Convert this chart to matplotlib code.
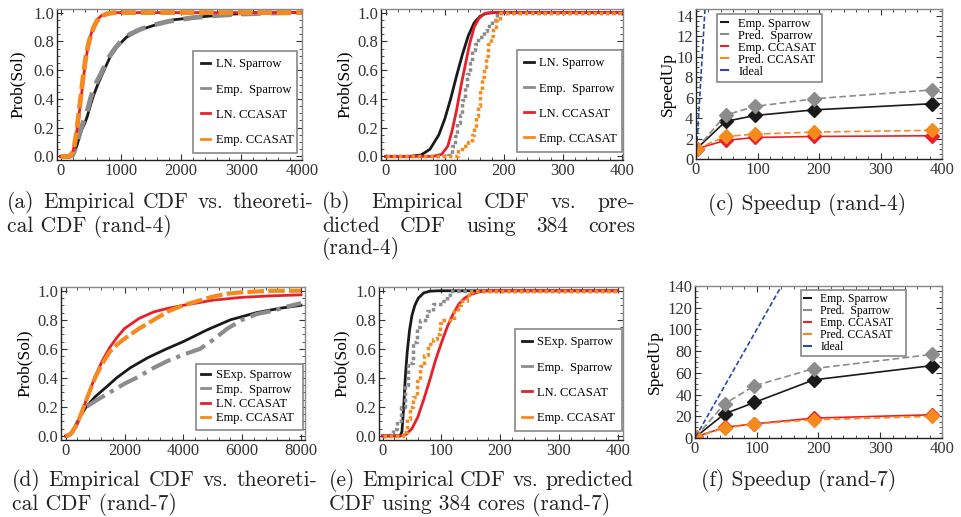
import matplotlib
matplotlib.use('Agg')
import matplotlib.pyplot as plt
from matplotlib.lines import Line2D
from matplotlib.ticker import MultipleLocator, AutoMinorLocator

plt.rcParams['font.family'] = ['Liberation Serif', 'DejaVu Serif']

# ---------------- data ----------------
# (a) rand-4, empirical vs theoretical
a_ln_sp_x = [0, 150, 183, 230, 266, 300, 349, 400, 443, 490, 542, 625, 720, 819, 929, 1095, 1317, 1538, 1870, 2313, 2866, 3419, 4000]
a_ln_sp_y = [0, 0, 0.01, 0.04, 0.07, 0.12, 0.185, 0.23, 0.28, 0.35, 0.42, 0.51, 0.6, 0.69, 0.76, 0.83, 0.88, 0.91, 0.95, 0.97, 0.99, 1.0, 1.0]
a_emp_sp_x = [0, 150, 200, 240, 280, 320, 360, 400, 450, 500, 560, 600, 650, 720, 800, 900, 1000, 1150, 1300, 1500, 1800, 2200, 2600, 3000, 3500, 4000]
a_emp_sp_y = [0, 0, 0.01, 0.05, 0.1, 0.17, 0.22, 0.27, 0.33, 0.41, 0.48, 0.52, 0.56, 0.62, 0.69, 0.75, 0.8, 0.85, 0.88, 0.91, 0.94, 0.965, 0.98, 0.99, 0.997, 1.0]
a_ln_cc_x = [0, 120, 160, 200, 240, 280, 320, 360, 400, 440, 490, 540, 600, 680, 760, 900, 1200, 4000]
a_ln_cc_y = [0, 0, 0.005, 0.03, 0.1, 0.21, 0.34, 0.48, 0.62, 0.73, 0.83, 0.9, 0.95, 0.98, 0.99, 1.0, 1.0, 1.0]
a_emp_cc_x = [0, 120, 160, 200, 230, 260, 290, 330, 380, 420, 460, 500, 550, 600, 650, 700, 760, 850, 1000, 4000]
a_emp_cc_y = [0, 0, 0.005, 0.03, 0.08, 0.16, 0.26, 0.4, 0.58, 0.7, 0.78, 0.84, 0.9, 0.94, 0.965, 0.98, 0.99, 0.998, 1.0, 1.0]

# (b) rand-4, predicted for 384 cores
b_ln_sp_x = [0, 40, 60, 75, 90, 100, 110, 120, 130, 140, 150, 160, 170, 185, 400]
b_ln_sp_y = [0, 0, 0.01, 0.05, 0.15, 0.26, 0.4, 0.56, 0.71, 0.84, 0.93, 0.975, 0.995, 1.0, 1.0]
b_emp_sp_x = [0, 106, 112, 117, 120, 126, 129, 134, 137, 143, 146, 151, 157, 166, 171, 180, 188, 400]
b_emp_sp_y = [0, 0.01, 0.07, 0.14, 0.23, 0.29, 0.39, 0.48, 0.57, 0.65, 0.74, 0.785, 0.83, 0.87, 0.91, 0.95, 1.0, 1.0]
b_ln_cc_x = [0, 80, 95, 105, 112, 120, 128, 135, 142, 150, 158, 168, 180, 400]
b_ln_cc_y = [0, 0, 0.015, 0.07, 0.17, 0.32, 0.5, 0.64, 0.78, 0.9, 0.96, 0.995, 1.0, 1.0]
b_emp_cc_x = [0, 120, 123, 130, 140, 147, 150, 153, 156, 160, 163, 166, 170, 174, 178, 182, 187, 193, 400]
b_emp_cc_y = [0, 0, 0.04, 0.07, 0.1, 0.15, 0.2, 0.28, 0.35, 0.45, 0.55, 0.62, 0.7, 0.78, 0.84, 0.9, 0.95, 1.0, 1.0]

# (d) rand-7, empirical vs theoretical
d_sexp_sp_x = [0, 100, 200, 350, 500, 700, 1000, 1400, 1730, 2200, 2800, 3430, 4000, 4800, 5600, 6500, 7300, 8000]
d_sexp_sp_y = [0, 0.005, 0.02, 0.07, 0.14, 0.2, 0.27, 0.34, 0.4, 0.47, 0.54, 0.6, 0.65, 0.73, 0.8, 0.85, 0.88, 0.9]
d_emp_sp_x = [0, 100, 200, 350, 500, 700, 1000, 1500, 2000, 2400, 3000, 3500, 4000, 4570, 5000, 5500, 6000, 6500, 7000, 7500, 8000]
d_emp_sp_y = [0, 0.005, 0.02, 0.07, 0.14, 0.2, 0.24, 0.3, 0.36, 0.4, 0.47, 0.52, 0.56, 0.6, 0.66, 0.74, 0.8, 0.84, 0.86, 0.89, 0.915]
d_ln_cc_x = [0, 100, 200, 350, 500, 650, 800, 1000, 1250, 1500, 1750, 2000, 2500, 3000, 3500, 4000, 5000, 6000, 7000, 8000]
d_ln_cc_y = [0, 0.005, 0.02, 0.07, 0.14, 0.22, 0.3, 0.41, 0.52, 0.61, 0.68, 0.74, 0.81, 0.855, 0.88, 0.9, 0.935, 0.955, 0.965, 0.972]
d_emp_cc_x = [0, 100, 200, 350, 500, 650, 800, 1000, 1250, 1500, 1750, 2000, 2500, 3000, 3500, 4000, 4500, 5000, 5500, 6000, 7000, 8000]
d_emp_cc_y = [0, 0.005, 0.02, 0.07, 0.14, 0.22, 0.3, 0.4, 0.5, 0.58, 0.63, 0.67, 0.74, 0.8, 0.86, 0.9, 0.93, 0.96, 0.98, 0.99, 1.0, 1.0]

# (e) rand-7, predicted for 384 cores
e_sexp_sp_x = [0, 30, 33, 36, 39, 42, 46, 50, 55, 61, 70, 80, 95, 400]
e_sexp_sp_y = [0, 0, 0.03, 0.2, 0.42, 0.58, 0.73, 0.83, 0.9, 0.95, 0.985, 0.997, 1.0, 1.0]
e_emp_sp_x = [0, 12, 18, 24, 32, 38, 44, 52, 58, 64, 75, 86, 103, 109, 115, 400]
e_emp_sp_y = [0, 0.02, 0.05, 0.1, 0.2, 0.35, 0.5, 0.65, 0.75, 0.8, 0.86, 0.91, 0.93, 0.97, 1.0, 1.0]
e_ln_cc_x = [0, 30, 40, 50, 60, 70, 80, 90, 100, 110, 120, 130, 140, 150, 165, 180, 400]
e_ln_cc_y = [0, 0, 0.01, 0.05, 0.13, 0.25, 0.38, 0.52, 0.64, 0.75, 0.84, 0.91, 0.95, 0.975, 0.993, 1.0, 1.0]
e_emp_cc_x = [0, 30, 35, 41, 47, 52, 58, 64, 70, 78, 85, 92, 97, 100, 117, 122, 128, 134, 143, 152, 400]
e_emp_cc_y = [0, 0, 0.03, 0.12, 0.2, 0.27, 0.38, 0.48, 0.56, 0.63, 0.67, 0.7, 0.78, 0.8, 0.8, 0.86, 0.9, 0.93, 0.97, 1.0, 1.0]

# speedups
cores = [1, 48, 96, 192, 384]
c_emp_sp = [1, 3.67, 4.25, 4.8, 5.4]
c_pred_sp = [1, 4.3, 5.13, 5.88, 6.75]
c_emp_cc = [1, 1.82, 2.1, 2.2, 2.27]
c_pred_cc = [1, 2.2, 2.43, 2.63, 2.8]
f_emp_sp = [1, 22.3, 32.7, 53.5, 66.7]
f_pred_sp = [1, 31.5, 48, 63.9, 77]
f_emp_cc = [1, 9.8, 13.1, 18.3, 21.4]
f_pred_cc = [1, 9.2, 12.8, 16.8, 19.9]
ideal = cores

cdf_labels_ln = ['LN. Sparrow', 'Emp.  Sparrow', 'LN. CCASAT', 'Emp. CCASAT']
cdf_labels_sexp = ['SExp. Sparrow', 'Emp.  Sparrow', 'LN. CCASAT', 'Emp. CCASAT']
sp_labels = ['Emp. Sparrow', 'Pred.  Sparrow', 'Emp. CCASAT', 'Pred. CCASAT', 'Ideal']

BLACK = '#1a1a1a'
GREY = '#8c8c8c'
RED = '#e8202a'
ORANGE = '#f58a1f'
BLUE = '#2b4aa8'

W, H = 962, 517
fig = plt.figure(figsize=(W / 100, H / 100), dpi=100)
renderer = fig.canvas.get_renderer()


def make_ax(l, t, r, b):
    ax = fig.add_axes([l / W, 1 - b / H, (r - l) / W, (b - t) / H])
    ax.tick_params(which='both', direction='in', top=True, right=True,
                   labelsize=12, pad=2, colors='#333333')
    ax.tick_params(which='major', length=4, width=0.8)
    ax.tick_params(which='minor', length=2, width=0.6)
    for s in ['top', 'right']:
        ax.spines[s].set_color('#888888')
    for s in ['left', 'bottom']:
        ax.spines[s].set_color('#222222')
    for s in ax.spines.values():
        s.set_linewidth(1.0)
    return ax


def add_legend(ax, handles, labels, box, fs, spacing, pad, hlen, hpad):
    x0, y0, x1 = box
    leg = ax.legend(handles, labels, loc='upper left',
                    bbox_to_anchor=(x0 / W, 0, (x1 - x0) / W, 1 - y0 / H),
                    bbox_transform=fig.transFigure, mode='expand',
                    borderaxespad=0, fontsize=fs, labelspacing=spacing,
                    borderpad=pad, handlelength=hlen, handletextpad=hpad,
                    fancybox=False, framealpha=1, edgecolor='#888888')
    leg.get_frame().set_linewidth(1.2)
    return leg


def cdf_handles():
    return [Line2D([], [], color=c, lw=2) for c in [BLACK, GREY, RED, ORANGE]]


def sp_handles():
    return [Line2D([], [], color=c, lw=1.5) for c in [BLACK, GREY, RED, ORANGE, BLUE]]


def cdf_axes(ax, xmajor, xminor):
    ax.set_ylim(-0.025, 1.025)
    ax.yaxis.set_major_locator(MultipleLocator(0.2))
    ax.yaxis.set_minor_locator(AutoMinorLocator(4))
    ax.xaxis.set_major_locator(MultipleLocator(xmajor))
    ax.xaxis.set_minor_locator(AutoMinorLocator(xminor))
    ax.yaxis.set_major_formatter(plt.FormatStrFormatter('%.1f'))


# ---------------- (a) ----------------
ax = make_ax(57, 9, 302, 160)
ax.plot(a_ln_sp_x, a_ln_sp_y, color=BLACK, lw=2)
ax.plot(a_emp_sp_x, a_emp_sp_y, color=GREY, lw=3.5, ls=(0, (4, 2)))
ax.plot(a_ln_cc_x, a_ln_cc_y, color=RED, lw=2)
ax.plot(a_emp_cc_x, a_emp_cc_y, color=ORANGE, lw=3.5, ls=(0, (3, 1)))
ax.set_xlim(-61, 4005)
cdf_axes(ax, 1000, 5)
ax.set_ylabel('Prob(Sol)', fontsize=12.5, va='center')
ax.yaxis.set_label_coords(-0.159, 0.5)
add_legend(ax, cdf_handles(), cdf_labels_ln, (193, 51, 297), 9, 1.05, 0.6, 0.75, 0.45)

# ---------------- (b) ----------------
ax = make_ax(381, 9, 623, 160)
ax.plot(b_ln_sp_x, b_ln_sp_y, color=BLACK, lw=2)
ax.plot(b_emp_sp_x, b_emp_sp_y, color=GREY, lw=2.5, ls=(0, (1, 0.8)), drawstyle='steps-post')
ax.plot(b_ln_cc_x, b_ln_cc_y, color=RED, lw=2)
ax.plot(b_emp_cc_x, b_emp_cc_y, color=ORANGE, lw=2.5, ls=(0, (1, 0.8)), drawstyle='steps-post')
ax.set_xlim(-8, 402)
cdf_axes(ax, 100, 5)
ax.set_ylabel('Prob(Sol)', fontsize=12.5, va='center')
ax.yaxis.set_label_coords(-0.149, 0.5)
add_legend(ax, cdf_handles(), cdf_labels_ln, (517, 50, 622), 9, 1.05, 0.6, 0.75, 0.45)

# ---------------- (c) ----------------
ax = make_ax(696, 9, 942, 159)
ax.plot(cores, c_emp_sp, color=BLACK, lw=1.2, marker='D', ms=7.5)
ax.plot(cores, c_pred_sp, color=GREY, lw=1.2, ls=(0, (4, 2)), marker='D', ms=7.5)
ax.plot(cores, c_emp_cc, color=RED, lw=1.2, marker='D', ms=7.5)
ax.plot(cores, c_pred_cc, color=ORANGE, lw=1.2, ls=(0, (4, 2)), marker='D', ms=7.5)
ax.plot(cores, ideal, color=BLUE, lw=1.2, ls=(0, (3, 1.5)))
ax.set_xlim(0, 400)
ax.set_ylim(0, 14.65)
ax.xaxis.set_major_locator(MultipleLocator(100))
ax.xaxis.set_minor_locator(AutoMinorLocator(5))
ax.yaxis.set_major_locator(MultipleLocator(2))
ax.yaxis.set_minor_locator(AutoMinorLocator(4))
ax.set_ylabel('SpeedUp', fontsize=12.5, va='center')
ax.yaxis.set_label_coords(-0.114, 0.5)
add_legend(ax, sp_handles(), sp_labels, (717, 14, 822), 9, 0.0, 0.3, 0.6, 0.8)

# ---------------- (d) ----------------
ax = make_ax(61, 287, 305, 440)
ax.plot(d_sexp_sp_x, d_sexp_sp_y, color=BLACK, lw=2)
ax.plot(d_emp_sp_x, d_emp_sp_y, color=GREY, lw=3, ls=(0, (5, 1.5, 1, 1.5)))
ax.plot(d_ln_cc_x, d_ln_cc_y, color=RED, lw=2)
ax.plot(d_emp_cc_x, d_emp_cc_y, color=ORANGE, lw=3, ls=(0, (4, 1)))
ax.set_xlim(-160, 8136)
cdf_axes(ax, 2000, 5)
ax.set_ylim(-0.028, 1.026)
ax.set_ylabel('Prob(Sol)', fontsize=12.5, va='center')
ax.yaxis.set_label_coords(-0.148, 0.5)
add_legend(ax, cdf_handles(), cdf_labels_sexp, (196, 364, 303), 9, 0.2, 0.4, 0.75, 0.45)

# ---------------- (e) ----------------
ax = make_ax(379, 287, 623, 440)
ax.plot(e_sexp_sp_x, e_sexp_sp_y, color=BLACK, lw=2)
ax.plot(e_emp_sp_x, e_emp_sp_y, color=GREY, lw=2.5, ls=(0, (1, 0.8)), drawstyle='steps-post')
ax.plot(e_ln_cc_x, e_ln_cc_y, color=RED, lw=2)
ax.plot(e_emp_cc_x, e_emp_cc_y, color=ORANGE, lw=2.5, ls=(0, (1, 0.8)), drawstyle='steps-post')
ax.set_xlim(-6, 409)
cdf_axes(ax, 100, 5)
ax.set_ylim(-0.028, 1.026)
ax.set_ylabel('Prob(Sol)', fontsize=12.5, va='center')
ax.yaxis.set_label_coords(-0.153, 0.5)
add_legend(ax, cdf_handles(), cdf_labels_sexp, (515, 329, 622), 9, 1.05, 0.6, 0.75, 0.45)

# ---------------- (f) ----------------
ax = make_ax(695, 286, 942, 438)
ax.plot(cores, f_emp_sp, color=BLACK, lw=1.2, marker='D', ms=7.5)
ax.plot(cores, f_pred_sp, color=GREY, lw=1.2, ls=(0, (4, 2)), marker='D', ms=7.5)
ax.plot(cores, f_emp_cc, color=RED, lw=1.2, marker='D', ms=7.5)
ax.plot(cores, f_pred_cc, color=ORANGE, lw=1.2, ls=(0, (4, 2)), marker='D', ms=7.5)
ax.plot(cores, ideal, color=BLUE, lw=1.2, ls=(0, (3, 1.5)))
ax.set_xlim(0, 400)
ax.set_ylim(0, 140)
ax.xaxis.set_major_locator(MultipleLocator(100))
ax.xaxis.set_minor_locator(AutoMinorLocator(5))
ax.yaxis.set_major_locator(MultipleLocator(20))
ax.yaxis.set_minor_locator(AutoMinorLocator(4))
ax.set_ylabel('SpeedUp', fontsize=12.5, va='center')
ax.yaxis.set_label_coords(-0.162, 0.5)
add_legend(ax, sp_handles(), sp_labels, (801, 290, 906), 8.5, 0.0, 0.25, 0.6, 0.8)

# ---------------- captions ----------------
CAP_KW = dict(fontsize=15.5, family='cmr10', va='baseline', color='#222222')


def put_line(txt, x0, y, x1=None, ha='left'):
    if x1 is None:
        fig.text(x0 / W, 1 - y / H, txt, ha=ha, **CAP_KW)
        return
    items = [fig.text(0, 1 - y / H, w, **CAP_KW) for w in txt.split()]
    widths = [t.get_window_extent(renderer).width for t in items]
    gap = (x1 - x0 - sum(widths)) / (len(items) - 1)
    x = x0
    for t, w in zip(items, widths):
        t.set_x(x / W)
        x += w + gap


put_line('(a) Empirical CDF vs. theoreti-', 7, 208, 313)
put_line('cal CDF (rand-4)', 7, 231.5)
put_line('(b) Empirical CDF vs. pre-', 322, 208, 635)
put_line('dicted CDF using 384 cores', 322, 231.5, 635)
put_line('(rand-4)', 322, 254)
put_line('(c) Speedup (rand-4)', 807, 209.5, ha='center')
put_line('(d) Empirical CDF vs. theoreti-', 12, 486.5, 317)
put_line('cal CDF (rand-7)', 12, 510)
put_line('(e) Empirical CDF vs. predicted', 329, 486.5, 633)
put_line('CDF using 384 cores (rand-7)', 329, 510)
put_line('(f) Speedup (rand-7)', 798.5, 486.5, ha='center')

fig.savefig('out.png', dpi=100)
